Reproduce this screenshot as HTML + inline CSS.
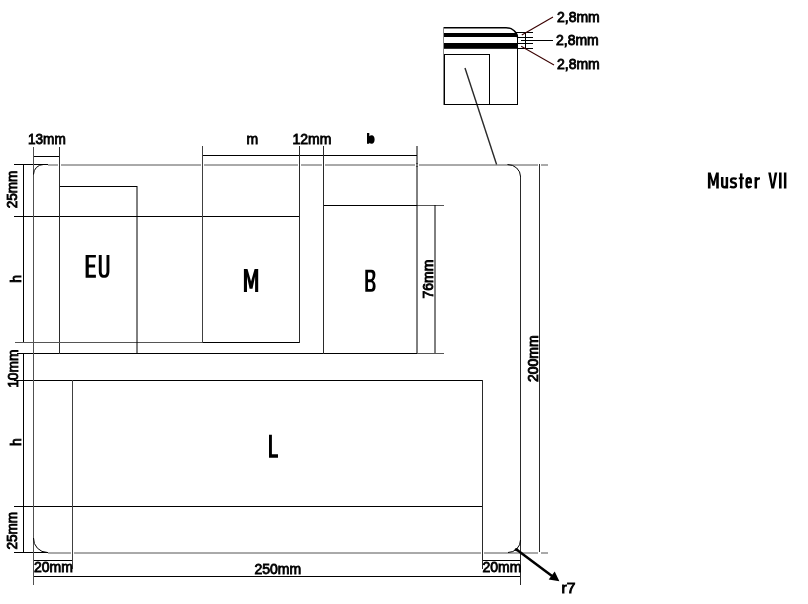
<!DOCTYPE html>
<html><head><meta charset="utf-8">
<style>
html,body{margin:0;padding:0;background:#fff;width:808px;height:604px;overflow:hidden}
svg{display:block;will-change:transform}
text{font-family:"Liberation Sans",sans-serif}
.d{font-size:14px;fill:#000;stroke:#000;stroke-width:0.85}
.c{font-family:"Liberation Sans",sans-serif;font-weight:bold;fill:#000}
</style></head><body>
<svg width="808" height="604" viewBox="0 0 808 604">
<g stroke="#000" stroke-width="1" fill="none" shape-rendering="crispEdges">
<!-- horizontals -->
<path d="M33 156.5H60M202 155.5H417M14 164.5H48M59 186.5H137M14 216.5H300M323 205.5H417M202 342.5H300M17 353.5H417M14 380.5H483M14 506.5H483M14 552.5H48M33 560.5H73M482 560.5H521M33 576.5H521"/>
<!-- verticals -->
<path d="M23.5 164V342M23.5 353V552"/>
</g>
<g stroke-width="1" fill="none" shape-rendering="crispEdges">
<path stroke="#505050" d="M33.5 147V585"/>
<path stroke="#404040" d="M202.5 146V343M72.5 380V568.5"/>
<path stroke="#2a2a2a" d="M59.5 147V354M299.5 146V343M323.5 146V354M482.5 380V568.5M520.5 176V585M539.5 164V552"/>
</g>
<g stroke="#555" stroke-width="1" fill="none" shape-rendering="crispEdges">
<path d="M15 342.5H202M417 205.5H444M417 353.5H444"/>
</g>
<g stroke="#000" stroke-width="1" fill="none">
<path d="M137 186V353M417 146V353M435 205V353"/>
</g>
<g stroke="#555" stroke-width="1" fill="none">
<path d="M48 165H548M48 553H548"/>
</g>
<g fill="#fff">
<rect x="58" y="164" width="3" height="2"/><rect x="201" y="164" width="3" height="2"/><rect x="298" y="164" width="3" height="2"/><rect x="322" y="164" width="3" height="2"/><rect x="415" y="164" width="4" height="2"/><rect x="538" y="164" width="3" height="2"/>
<rect x="71" y="552" width="3" height="2"/><rect x="481" y="552" width="3" height="2"/><rect x="538" y="552" width="3" height="2"/>
</g>
<g stroke-width="1" fill="none" shape-rendering="crispEdges">
<path stroke="#404040" d="M202.5 163V167M72.5 551V555"/>
<path stroke="#2a2a2a" d="M59.5 163V167M299.5 163V167M323.5 163V167M482.5 551V555M539.5 164V167M539.5 551V552"/>
</g>
<path d="M417 163V167" stroke="#000" stroke-width="1"/>
<!-- corner arcs -->
<g stroke="#000" stroke-width="1" fill="none">
<path d="M33.5 174.5A10 10 0 0 1 43.5 164.5"/>
<path d="M507.5 164.5A13 12 0 0 1 520.5 176.5"/>
<path d="M33.5 538A14 14 0 0 0 47.5 552.5"/>
<path d="M508 552.5A12.5 12.5 0 0 0 520.5 540"/>
</g>
<!-- leader from inset -->
<line x1="465" y1="68" x2="496.6" y2="164.5" stroke="#2a2a2a" stroke-width="1.4"/>
<!-- inset -->
<defs><clipPath id="ic"><path d="M443 27H506A11.5 10.5 0 0 1 518 37.5V105H443Z"/></clipPath></defs>
<g clip-path="url(#ic)">
<rect x="443" y="33" width="76" height="4" fill="#000"/>
<rect x="443" y="43" width="76" height="5.8" fill="#000"/>
</g>
<g fill="none" stroke="#000">
<path d="M443 27.7H506A11.5 10.5 0 0 1 517.5 37.5" stroke-width="1.5"/>
</g>
<g fill="none" stroke="#000" stroke-width="1" shape-rendering="crispEdges">
<path d="M517.5 37V105M443 104.5H518M444.5 104V54.5H489.5V104"/>
</g>
<path d="M443.5 27V105" stroke="#888" stroke-width="1" shape-rendering="crispEdges"/>
<g stroke="#000" stroke-width="1" shape-rendering="crispEdges">
<path d="M514.5 32.5H533M517 37.5H533M521 40.5H553M517 43.5H533M517 48.5H533M525.5 32V49"/>
</g>
<g stroke="#3a0000" stroke-width="1.1">
<line x1="521.8" y1="35" x2="553" y2="17"/>
<line x1="521.2" y1="46.3" x2="554" y2="65"/>
</g>
<!-- arrow r7 -->
<line x1="516.5" y1="549.5" x2="552" y2="576" stroke="#000" stroke-width="2.5"/>
<polygon points="559.4,581.2 548.7,579.5 554.7,571.5" fill="#000"/>
<circle cx="516.4" cy="549.6" r="1.7" fill="#000"/>
<!-- dimension texts -->
<g class="d">
<text x="557" y="21.5">2,8mm</text>
<text x="556" y="45">2,8mm</text>
<text x="557" y="69">2,8mm</text>
<text transform="translate(28 144) scale(0.97 1)">13mm</text>
<text x="246.5" y="144">m</text>
<text x="292.5" y="144">12mm</text>
<text x="254.5" y="574">250mm</text>
<text x="34" y="571.5">20mm</text>
<text x="482.5" y="571.5">20mm</text>
<text transform="translate(561.5 592.8) scale(1.12 1)">r7</text>
<text transform="translate(17.4 208.3) rotate(-90) scale(0.97 1)">25mm</text>
<text transform="translate(17.4 549.6) rotate(-90) scale(0.97 1)">25mm</text>
<text transform="translate(17.8 387.8) rotate(-90) scale(0.98 1)">10mm</text>
<text transform="translate(21 282.8) rotate(-90)">h</text>
<text transform="translate(21 446) rotate(-90)">h</text>
<text transform="translate(432.8 298.5) rotate(-90)">76mm</text>
<text transform="translate(537.8 382) rotate(-90)">200mm</text>
</g>
<!-- condensed labels -->
<path d="M367 133H369.3V136.2C369.9 135.6 370.8 135.3 371.6 135.3C373.6 135.3 374.6 137.2 374.6 139.5C374.6 141.9 373.6 143.7 371.6 143.7C370.8 143.7 369.9 143.4 369.3 142.8V143.7H367Z" fill="#000"/>
<g fill="#000" fill-rule="evenodd">
<path d="M85.6 255H95.9V257.6H88.8V264.4H95.1V267.4H88.8V274.8H95.9V277.8H85.6Z"/>
<path d="M98.8 255H101.7V271.5C101.7 274 102.6 275 104.1 275C105.6 275 106.5 274 106.5 271.5V255H109.4V271C109.4 275.8 107.6 277.8 104.1 277.8C100.6 277.8 98.8 275.8 98.8 271Z"/>
<path d="M243.9 292V269.1H247.5L251.05 281.5L254.6 269.1H258.2V292H255.1V276.5L252.5 288.8H249.6L247 276.5V292Z"/>
<path d="M365.3 269.8H371.3C374.1 269.8 375.4 271.6 375.4 274.6C375.4 277.4 374.5 279.8 372.9 280.7C374.8 281.6 375.6 283.6 375.6 286.4C375.6 289.8 374 291.8 371.2 291.8H365.3ZM368 272.5H370.8C372.1 272.5 372.6 273.6 372.6 275.6C372.6 278 371.9 279.3 370.6 279.3H368ZM368 282.2H370.9C372.2 282.2 372.8 283.4 372.8 285.7C372.8 288 372.1 289.1 370.8 289.1H368Z"/>
<path d="M269 434.7H271.9V454.3H278V457.8H269Z"/>
</g>
<g fill="#000">
<path d="M707.9 188.5V172.4H710.7L713.4 181.6L716.1 172.4H718.8V188.5H716.2V178.2L714.5 185.8H712.3L710.5 178.2V188.5Z"/>
<path d="M779 172.4H781.6V188.5H779ZM783.9 172.4H786.4V188.5H783.9ZM768.2 172.4H770.8L772.75 184.2L774.7 172.4H777.3L774.1 188.5H771.4Z"/>
</g>
<g fill="none" stroke="#000" stroke-width="2.5">
<path d="M722.2 177.1V184.8Q722.2 187.3 724.5 187.3Q726.9 187.3 726.9 184.8M726.9 177.1V188.5"/>
<path d="M736.6 178.9Q735.6 178.3 733.6 178.3Q731 178.3 731 180.5Q731 182.3 733.5 182.7Q736 183.1 736 185.3Q736 187.3 733.5 187.3Q731.3 187.3 730 186.5" stroke-width="2.3"/>
<path d="M741.2 173.4V188.5"/>
<path d="M738.8 178.3H744" stroke-width="1.9"/>
<path d="M746.6 182.4H750.8V181Q750.8 178.3 748.7 178.3Q746.6 178.3 746.6 181V184.7Q746.6 187.3 748.7 187.3Q750.4 187.3 751 185.9" stroke-width="2.4"/>
<path d="M755.8 177.1V188.5"/>
<path d="M755.8 181Q756.3 178.4 760 178.4" stroke-width="2.2"/>
</g>
</svg>
</body></html>
